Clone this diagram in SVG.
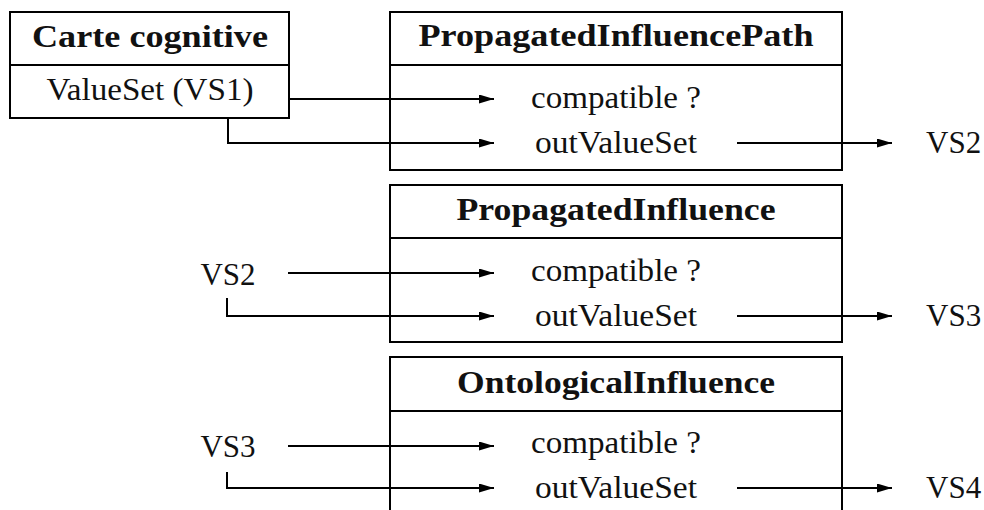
<svg xmlns="http://www.w3.org/2000/svg" width="984" height="510" viewBox="0 0 984 510">
<style>
.box{fill:none;stroke:#000;stroke-width:2}
.div{stroke:#000;stroke-width:2}
text{font-family:"Liberation Serif","DejaVu Serif",serif;font-size:31px;fill:#111}
.t{font-weight:bold;text-anchor:middle}
.m{text-anchor:middle}
.c{fill:none;stroke:#000;stroke-width:2}
</style>
<defs>
<marker id="ah" markerUnits="userSpaceOnUse" markerWidth="16" markerHeight="10" refX="15" refY="4.5" orient="auto">
<path d="M0,0 L15,4.5 L0,9 z" fill="#000"/>
</marker>
</defs>
<rect width="984" height="510" fill="#fff"/>
<g id="carte">
<rect class="box" x="10" y="12" width="279" height="106"/>
<line class="div" x1="10" y1="65" x2="289" y2="65"/>
<text class="t" x="150" y="47" textLength="236" lengthAdjust="spacingAndGlyphs">Carte cognitive</text>
<text class="m" x="150" y="100" textLength="207" lengthAdjust="spacingAndGlyphs">ValueSet (VS1)</text>
</g>
<g id="pip">
<rect class="box" x="390" y="12" width="452" height="158"/>
<line class="div" x1="390" y1="65" x2="842" y2="65"/>
<text class="t" x="616" y="46" textLength="395" lengthAdjust="spacingAndGlyphs">PropagatedInfluencePath</text>
<text class="m" x="616" y="108" textLength="170" lengthAdjust="spacingAndGlyphs">compatible ?</text>
<text class="m" x="616" y="153" textLength="162" lengthAdjust="spacingAndGlyphs">outValueSet</text>
</g>
<g id="pi">
<rect class="box" x="390" y="185" width="452" height="157"/>
<line class="div" x1="390" y1="238" x2="842" y2="238"/>
<text class="t" x="616" y="220" textLength="319" lengthAdjust="spacingAndGlyphs">PropagatedInfluence</text>
<text class="m" x="616" y="281" textLength="170" lengthAdjust="spacingAndGlyphs">compatible ?</text>
<text class="m" x="616" y="326" textLength="162" lengthAdjust="spacingAndGlyphs">outValueSet</text>
</g>
<g id="oi">
<rect class="box" x="390" y="357" width="452" height="170"/>
<line class="div" x1="390" y1="411" x2="842" y2="411"/>
<text class="t" x="616" y="393" textLength="318" lengthAdjust="spacingAndGlyphs">OntologicalInfluence</text>
<text class="m" x="616" y="453" textLength="170" lengthAdjust="spacingAndGlyphs">compatible ?</text>
<text class="m" x="616" y="498" textLength="162" lengthAdjust="spacingAndGlyphs">outValueSet</text>
</g>
<g id="labels">
<text class="m" x="228" y="285">VS2</text>
<text class="m" x="228" y="457">VS3</text>
<text x="926" y="153">VS2</text>
<text x="926" y="326">VS3</text>
<text x="926" y="498">VS4</text>
</g>
<g id="connectors">
<path class="c" d="M289,99 H494" marker-end="url(#ah)"/>
<path class="c" d="M228,118 V143 H494" marker-end="url(#ah)"/>
<path class="c" d="M737,143 H892" marker-end="url(#ah)"/>
<path class="c" d="M288,273 H494" marker-end="url(#ah)"/>
<path class="c" d="M227,298 V316 H494" marker-end="url(#ah)"/>
<path class="c" d="M737,316 H892" marker-end="url(#ah)"/>
<path class="c" d="M288,446 H494" marker-end="url(#ah)"/>
<path class="c" d="M227,472 V488 H494" marker-end="url(#ah)"/>
<path class="c" d="M737,488 H892" marker-end="url(#ah)"/>
</g>
</svg>
